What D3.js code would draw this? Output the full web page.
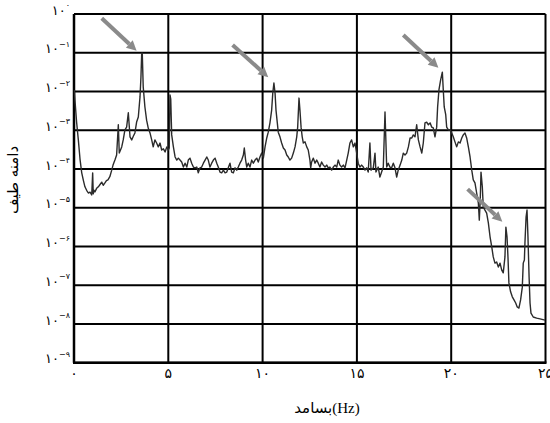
<!DOCTYPE html>
<html>
<head>
<meta charset="utf-8">
<script src="https://cdn.jsdelivr.net/npm/d3@7"></script>
<style>
  body { margin: 0; background: #fff; }
  svg { display: block; }
</style>
</head>
<body>
<svg id="chart" width="550" height="423"></svg>
<script>
// frequency (Hz) and log10 of spectrum amplitude
var spectrum = [
  [0.02,-1.96],[0.05,-2.22],[0.14,-2.80],[0.23,-3.25],[0.32,-3.75],[0.41,-4.10],[0.50,-4.30],[0.58,-4.46],
  [0.67,-4.55],[0.76,-4.62],[0.85,-4.60],[0.94,-4.67],[0.99,-4.10],[1.02,-4.64],[1.06,-4.55],[1.11,-4.59],
  [1.20,-4.50],[1.29,-4.46],[1.38,-4.40],[1.47,-4.34],[1.55,-4.42],[1.64,-4.36],[1.72,-4.30],[1.80,-4.28],
  [1.90,-4.20],[2.00,-4.03],[2.07,-3.90],[2.17,-3.77],[2.26,-3.64],[2.35,-2.86],[2.40,-3.59],[2.53,-3.43],
  [2.61,-3.25],[2.70,-2.99],[2.79,-2.92],[2.88,-2.55],[2.97,-3.17],[3.06,-3.25],[3.15,-3.15],[3.23,-3.07],
  [3.32,-2.79],[3.41,-2.66],[3.50,-2.14],[3.55,-1.63],[3.59,-1.01],[3.62,-1.01],[3.67,-1.88],[3.76,-2.40],
  [3.85,-2.74],[3.94,-2.95],[4.03,-3.07],[4.12,-3.25],[4.20,-3.43],[4.29,-3.25],[4.38,-3.33],[4.47,-3.43],
  [4.56,-3.33],[4.65,-3.51],[4.74,-3.48],[4.83,-3.56],[4.92,-3.43],[5.00,-3.51],
  [5.05,-3.46],[5.09,-2.09],[5.13,-2.20],[5.18,-3.12],[5.27,-3.43],[5.36,-3.69],[5.45,-3.77],[5.53,-3.72],
  [5.62,-3.77],[5.71,-3.82],[5.80,-3.95],[5.89,-3.85],[5.98,-3.95],[6.06,-3.77],[6.15,-3.72],[6.24,-3.85],
  [6.33,-3.95],[6.42,-3.97],[6.51,-3.95],[6.59,-4.10],[6.68,-3.97],[6.77,-3.95],[6.86,-3.85],[6.95,-3.77],
  [7.04,-3.69],[7.12,-3.77],[7.21,-3.95],[7.30,-3.85],[7.39,-3.77],[7.48,-3.72],[7.57,-3.85],[7.65,-3.95],
  [7.74,-4.08],[7.83,-4.10],[7.92,-4.03],[8.01,-4.10],[8.10,-4.08],[8.18,-3.97],[8.27,-3.85],[8.36,-4.08],
  [8.45,-4.10],[8.54,-3.97],[8.63,-4.03],[8.71,-3.95],[8.80,-3.85],[8.89,-3.77],[8.98,-3.64],[9.03,-3.46],
  [9.10,-3.77],[9.16,-3.95],[9.24,-3.85],[9.33,-3.95],[9.42,-3.77],[9.51,-3.85],[9.60,-3.77],[9.69,-3.72],
  [9.77,-3.82],[9.86,-3.69],[9.95,-3.59],[10.04,-3.72],
  [10.13,-3.43],[10.22,-3.20],[10.30,-3.05],[10.39,-2.81],[10.48,-2.48],[10.54,-2.04],[10.60,-1.78],[10.66,-2.04],
  [10.71,-2.48],[10.78,-2.81],[10.83,-3.05],[10.92,-3.17],[11.01,-3.33],[11.10,-3.46],[11.19,-3.51],[11.28,-3.64],
  [11.36,-3.69],[11.45,-3.77],[11.54,-3.72],[11.63,-3.59],[11.72,-3.43],[11.81,-3.17],[11.86,-2.92],[11.93,-2.17],
  [11.98,-2.48],[12.04,-2.92],[12.10,-3.17],[12.16,-3.33],[12.25,-3.30],[12.34,-3.43],[12.42,-3.51],[12.51,-3.77],
  [12.55,-3.97],[12.60,-3.82],[12.69,-3.72],[12.78,-3.85],[12.87,-3.77],[12.95,-3.85],[13.04,-3.95],[13.13,-3.82],
  [13.22,-3.90],[13.31,-3.95],[13.40,-3.90],[13.48,-3.97],[13.57,-3.95],[13.66,-4.03],[13.75,-3.95],[13.84,-3.90],
  [13.93,-3.95],[14.01,-3.77],[14.10,-3.90],[14.19,-3.95],[14.28,-3.90],[14.37,-3.97],[14.46,-3.77],[14.54,-3.59],
  [14.63,-3.33],[14.72,-3.25],[14.81,-3.43],[14.90,-3.33],
  [14.99,-3.59],[15.07,-3.85],[15.16,-3.95],[15.25,-3.90],[15.34,-3.95],[15.43,-4.03],[15.52,-3.97],[15.60,-4.08],
  [15.69,-3.33],[15.75,-4.03],[15.87,-3.97],[15.96,-3.59],[16.01,-4.08],[16.13,-3.95],[16.22,-4.21],[16.31,-4.08],
  [16.40,-3.95],[16.49,-2.53],[16.58,-3.95],[16.66,-3.85],[16.75,-3.95],[16.84,-3.97],[16.93,-3.85],[17.02,-3.97],
  [17.11,-4.21],[17.19,-4.03],[17.29,-3.90],[17.38,-3.77],[17.46,-3.59],[17.55,-3.64],[17.64,-3.59],[17.73,-3.43],
  [17.82,-3.20],[17.91,-3.20],[17.99,-3.12],[18.08,-3.17],[18.17,-2.86],[18.26,-3.25],[18.35,-3.43],[18.44,-3.59],
  [18.52,-3.33],[18.61,-2.81],[18.70,-2.79],[18.79,-2.86],[18.88,-2.81],[18.97,-2.92],[19.05,-2.94],[19.14,-3.17],
  [19.23,-2.92],[19.28,-2.40],[19.35,-1.96],[19.44,-1.70],[19.53,-1.50],[19.58,-1.96],[19.63,-2.40],[19.71,-2.60],
  [19.76,-2.92],[19.85,-2.99],[19.94,-2.99],
  [20.03,-3.07],[20.11,-3.17],[20.20,-3.30],[20.29,-3.43],[20.38,-3.30],[20.47,-3.33],[20.56,-3.20],[20.64,-3.12],
  [20.73,-3.07],[20.82,-3.20],[20.91,-3.43],[21.00,-3.69],[21.09,-4.03],[21.17,-4.28],[21.26,-4.36],[21.35,-4.62],
  [21.44,-4.88],[21.49,-5.32],[21.54,-4.80],[21.58,-4.08],[21.65,-4.46],[21.70,-4.98],[21.79,-5.06],[21.88,-5.14],
  [21.97,-5.39],[22.06,-5.75],[22.15,-6.01],[22.23,-6.27],[22.32,-6.43],[22.41,-6.40],[22.50,-6.53],[22.59,-6.43],
  [22.68,-6.61],[22.76,-6.68],[22.85,-6.27],[22.90,-5.50],[22.96,-5.75],[23.01,-6.27],[23.06,-6.94],[23.15,-7.17],
  [23.24,-7.30],[23.33,-7.38],[23.42,-7.46],[23.50,-7.56],[23.59,-7.59],[23.68,-7.38],[23.77,-7.05],[23.82,-6.43],
  [23.88,-6.35],[23.91,-5.91],[23.97,-5.24],[24.02,-5.06],[24.07,-5.75],[24.13,-6.79],[24.18,-7.46],[24.23,-7.72],
  [24.35,-7.82],[24.53,-7.85],[24.71,-7.87],[24.97,-7.90]
]

// arrows pointing at the peaks: [fromHz, fromLog, toHz, toLog]
var arrows = [
  [1.47,-0.11, 3.32,-0.95],
  [8.41,-0.80, 10.30,-1.63],
  [17.46,-0.54, 19.32,-1.39],
  [20.87,-4.52, 22.71,-5.36]
]

var xTicks = [0, 5, 10, 15, 20, 25]
var yExponents = [0, -1, -2, -3, -4, -5, -6, -7, -8, -9]
var xLabel = "بسامد(Hz)"
var yLabel = "دامنه طیف"

function fa(s) {
  return String(s).replace(/[0-9]/g, function(d) { return "۰۱۲۳۴۵۶۷۸۹"[+d] })
}

var svg = d3.select("#chart")
var plotLeft = 74, plotRight = 545.5, plotTop = 14, plotBottom = 362.7

var x = d3.scaleLinear().domain([0, 25]).range([plotLeft, plotRight])
var y = d3.scaleLog().domain([1e-9, 1]).range([plotBottom, plotTop])

// grid
svg.append("g").selectAll("line")
  .data(yExponents)
  .join("line")
    .attr("x1", plotLeft).attr("x2", plotRight)
    .attr("y1", function(e) { return y(Math.pow(10, e)) })
    .attr("y2", function(e) { return y(Math.pow(10, e)) })
    .style("stroke", "#000")
    .style("stroke-width", "2px")

svg.append("g").selectAll("line")
  .data(xTicks)
  .join("line")
    .attr("x1", function(d) { return x(d) }).attr("x2", function(d) { return x(d) })
    .attr("y1", plotTop).attr("y2", plotBottom)
    .style("stroke", "#000")
    .style("stroke-width", function(d) { return d === 0 ? "2.5px" : "2px" })

svg.append("line")
  .attr("x1", plotLeft - 1).attr("x2", plotRight + 1)
  .attr("y1", plotBottom).attr("y2", plotBottom)
  .style("stroke", "#000").style("stroke-width", "2.5px")

// spectrum line
var line = d3.line()
  .x(function(d) { return x(d[0]) })
  .y(function(d) { return y(Math.pow(10, d[1])) })

svg.append("path")
  .datum(spectrum)
  .attr("d", line)
  .style("fill", "none")
  .style("stroke", "#2b2b2b")
  .style("stroke-width", "1.4px")
  .style("stroke-linejoin", "round")

// arrows
arrows.forEach(function(a) {
  let x1 = x(a[0]), y1 = y(Math.pow(10, a[1]))
  let x2 = x(a[2]), y2 = y(Math.pow(10, a[3]))
  let ang = Math.atan2(y2 - y1, x2 - x1)
  let head = 10, wing = 5
  let bx = x2 - head * Math.cos(ang), by = y2 - head * Math.sin(ang)
  svg.append("line")
    .attr("x1", x1).attr("y1", y1)
    .attr("x2", bx).attr("y2", by)
    .style("stroke", "#8a8a8a")
    .style("stroke-width", "4px")
  svg.append("path")
    .attr("d", "M" + x2 + "," + y2 +
      "L" + (bx + wing * Math.sin(ang)) + "," + (by - wing * Math.cos(ang)) +
      "L" + (bx - wing * Math.sin(ang)) + "," + (by + wing * Math.cos(ang)) + "Z")
    .style("fill", "#8a8a8a")
})

// y tick labels: ۱۰ with superscript exponent
var yl = svg.append("g").selectAll("text")
  .data(yExponents)
  .join("text")
    .attr("x", 70)
    .attr("y", function(e) { return y(Math.pow(10, e)) })
    .attr("text-anchor", "end")
    .attr("direction", "ltr")
    .style("font-family", "DejaVu Sans, sans-serif")
    .style("fill", "#000")
yl.append("tspan")
  .attr("font-size", 13)
  .attr("dy", "0.05em")
  .text(fa(10))
yl.append("tspan")
  .attr("font-size", 8)
  .attr("dy", "-0.8em")
  .text(function(e) { return e === 0 ? fa(0) : "\u2212" + fa(-e) })

// x tick labels
svg.append("g").selectAll("text")
  .data(xTicks)
  .join("text")
    .attr("x", function(d) { return x(d) })
    .attr("y", 378)
    .attr("text-anchor", "middle")
    .style("font-family", "DejaVu Sans, sans-serif")
    .style("font-size", "14px")
    .text(function(d) { return fa(d) })

// axis titles
svg.append("text")
  .attr("x", 327).attr("y", 413)
  .attr("text-anchor", "middle")
  .attr("direction", "ltr")
  .style("font-family", "Liberation Serif, DejaVu Sans, serif")
  .style("font-size", "15px")
  .text(xLabel)

svg.append("text")
  .attr("transform", "translate(18,180) rotate(-90)")
  .attr("text-anchor", "middle")
  .style("font-family", "DejaVu Sans, sans-serif")
  .style("font-size", "15px")
  .text(yLabel)
</script>
</body>
</html>
